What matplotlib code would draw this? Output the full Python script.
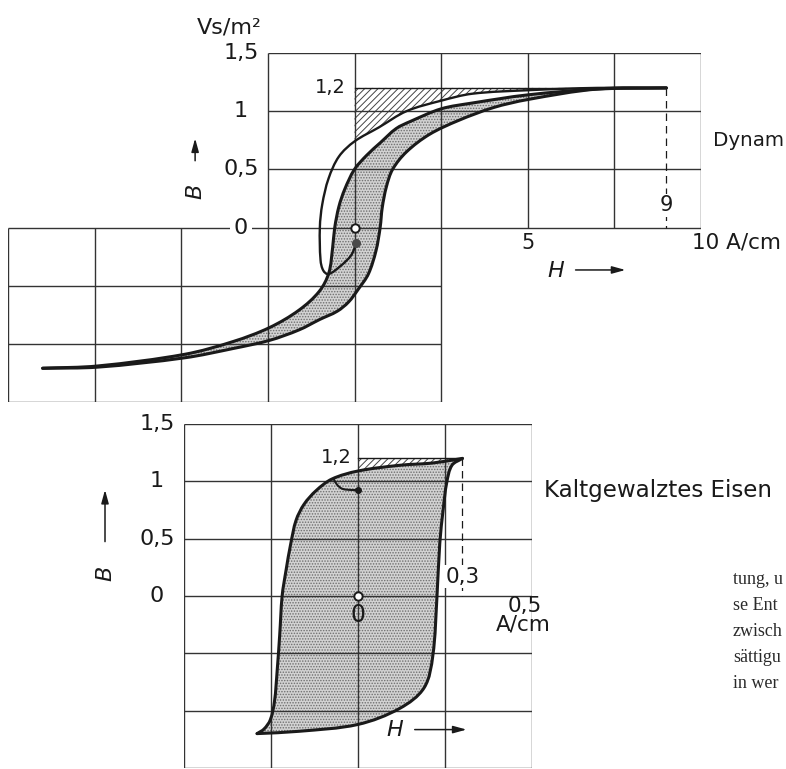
import numpy as np
import matplotlib
matplotlib.use("Agg")
import matplotlib.pyplot as plt
from matplotlib.path import Path
from matplotlib.patches import PathPatch

plt.rcParams['font.family'] = ['DejaVu Sans']
plt.rcParams['hatch.linewidth'] = 0.7

# Dynamoblech  (H in A/cm, B in Vs/m^2)
dyn_down_H = [9.0, 7.0, 5.0, 3.4, 2.5, 1.6, 1.2, 0.75, 0.35, 0.0, -0.28, -0.45, -0.57, -0.63,
              -0.74, -1.02, -1.6, -2.45, -3.5, -4.9, -7.4, -9.0]
dyn_down_B = [1.20, 1.19, 1.14, 1.07, 1.02, 0.91, 0.85, 0.73, 0.62, 0.50, 0.33, 0.18, 0.0, -0.17,
              -0.39, -0.55, -0.71, -0.86, -0.98, -1.09, -1.19, -1.21]
dyn_up_H = [-9.0, -7.4, -4.9, -3.5, -2.45, -1.6, -1.0, -0.5, -0.17, 0.11, 0.4, 0.62, 0.74,
            0.8, 0.92, 1.1, 1.5, 2.16, 3.0, 4.0, 5.0, 7.0, 9.0]
dyn_up_B = [-1.21, -1.2, -1.12, -1.04, -0.97, -0.88, -0.79, -0.72, -0.64, -0.53, -0.40, -0.2, 0.0,
            0.17, 0.35, 0.50, 0.65, 0.80, 0.92, 1.03, 1.10, 1.19, 1.20]
dyn_a_H = [9.0, 7.0, 5.0, 3.4, 2.5, 1.5, 0.7, 0.0, -0.45, -0.75, -0.93, -1.0, -0.98, -0.9,
           -0.75, -0.4, -0.1, 0.05]
dyn_a_B = [1.20, 1.20, 1.18, 1.15, 1.09, 1.00, 0.86, 0.74, 0.61, 0.42, 0.20, 0.0, -0.28, -0.37,
           -0.40, -0.33, -0.24, -0.14]
dyn_Hmax, dyn_Bmax = 9.0, 1.2

# Kaltgewalztes Eisen
kalt_down_H = [0.30, 0.215, 0.12, 0.0, -0.075, -0.12, -0.155, -0.178, -0.193, -0.207, -0.218,
               -0.225, -0.232, -0.24, -0.252, -0.27, -0.29]
kalt_down_B = [1.20, 1.16, 1.14, 1.09, 1.02, 0.92, 0.80, 0.66, 0.46, 0.22, 0.0,
               -0.34, -0.64, -0.92, -1.08, -1.16, -1.20]
kalt_up_H = [-0.29, -0.17, 0.0, 0.12, 0.19, 0.215, 0.227, 0.235, 0.245, 0.255, 0.27, 0.30]
kalt_up_B = [-1.20, -1.18, -1.12, -0.98, -0.80, -0.52, 0.0, 0.46, 0.76, 0.99, 1.14, 1.20]
kalt_hook_H = [-0.07, -0.06, -0.045, -0.02, 0.0]
kalt_hook_B = [1.02, 0.97, 0.935, 0.925, 0.925]
kalt_Hmax, kalt_Bmax = 0.3, 1.2

b_ticks = [1.5, 1, 0.5, 0]
b_labels = ["1,5", "1", "0,5", "0"]

body_lines = ["tung, u", "se Ent", "zwisch", "sättigu", "in wer"]

INK = '#1a1a1a'
GRID = '#333333'
ARROW = '-|>,head_length=0.8,head_width=0.22'


def smooth(xs, ys, sx, sy):
    # bezier path through the read points, handles 1/3 of the segment length
    p = np.column_stack([np.asarray(xs, float) * sx, np.asarray(ys, float) * sy])
    n = len(p)
    tang = np.zeros_like(p)
    for i in range(n):
        d = p[min(i + 1, n - 1)] - p[max(i - 1, 0)]
        tang[i] = d / (np.hypot(*d) or 1.0)
    verts = [p[0]]
    codes = [Path.MOVETO]
    for i in range(n - 1):
        L = np.hypot(*(p[i + 1] - p[i]))
        verts += [p[i] + tang[i] * L / 3, p[i + 1] - tang[i + 1] * L / 3, p[i + 1]]
        codes += [Path.CURVE4] * 3
    v = np.array(verts) / [sx, sy]
    return v, codes


def join(*parts, close=False):
    verts, codes = [], []
    for k, (v, c) in enumerate(parts):
        c = list(c)
        if k > 0:
            c[0] = Path.LINETO
        verts += list(v)
        codes += c
    if close:
        verts.append(verts[0])
        codes.append(Path.CLOSEPOLY)
    return Path(np.array(verts), codes)


def line_part(xs, ys):
    return np.column_stack([xs, ys]), [Path.MOVETO] + [Path.LINETO] * (len(xs) - 1)


def stipple(ax, path):
    ax.add_patch(PathPatch(path, facecolor='#d2d2d2', edgecolor='none', zorder=1))
    ax.add_patch(PathPatch(path, facecolor='none', edgecolor='#6e6e6e', lw=0, hatch='......', zorder=1))


def stroke(ax, part, lw):
    ax.add_patch(PathPatch(Path(*part), facecolor='none', edgecolor=INK, lw=lw, zorder=3,
                           capstyle='round', joinstyle='round'))


fig = plt.figure(figsize=(7.86, 7.69), dpi=100)
W, Hh = 786.0, 769.0

# ---------------- top: Dynamoblech ----------------
ax1 = fig.add_axes([8 / W, 1 - 402 / Hh, 693 / W, 349 / Hh])
ax1.set_xlim(-10, 10)
ax1.set_ylim(-1.5, 1.5)
ax1.axis('off')
sx1, sy1 = 34.65, 116.3

# grid (stepped)
up_x = [-2.5, 0, 2.5, 5, 7.5, 10]
lo_x = [-10, -7.5, -5, -2.5, 0, 2.5]
ax1.vlines(up_x, 0, 1.5, color=GRID, lw=1.0, zorder=2)
ax1.hlines([0.5, 1.0, 1.5], -2.5, 10, color=GRID, lw=1.0, zorder=2)
ax1.vlines(lo_x, -1.5, 0, color=GRID, lw=1.0, zorder=2)
ax1.hlines([-0.5, -1.0, -1.5], -10, 2.5, color=GRID, lw=1.0, zorder=2)
ax1.hlines(0, -10, 10, color=GRID, lw=1.0, zorder=2)

down1 = smooth(dyn_down_H, dyn_down_B, sx1, sy1)
up1 = smooth(dyn_up_H, dyn_up_B, sx1, sy1)
a1 = smooth(dyn_a_H, dyn_a_B, sx1, sy1)
a1_top = smooth(dyn_a_H[:8], dyn_a_B[:8], sx1, sy1)

stipple(ax1, join(down1, up1, close=True))
hatch1 = join(line_part([0, dyn_Hmax], [dyn_Bmax, dyn_Bmax]), a1_top, close=True)
ax1.add_patch(PathPatch(hatch1, facecolor='white', edgecolor='#444444', lw=0, hatch='/////', zorder=1))

stroke(ax1, down1, 2.2)
stroke(ax1, up1, 2.2)
stroke(ax1, a1, 1.7)
ax1.plot([0, dyn_Hmax], [dyn_Bmax, dyn_Bmax], color=INK, lw=1.0, zorder=3)
ax1.plot([dyn_Hmax, dyn_Hmax], [dyn_Bmax, 0], color=INK, lw=0.9, ls=(0, (6, 4)), zorder=3)
ax1.plot([0], [0], 'o', ms=6, mfc='white', mec=INK, mew=1.4, zorder=4)
ax1.plot([dyn_a_H[-1]], [dyn_a_B[-1] + 0.01], 'o', ms=5.5, color='#4a4a4a', zorder=4)

for v, s in zip(b_ticks, b_labels):
    bb = dict(facecolor='white', edgecolor='none', pad=3) if v == 0 else None
    ax1.text(-3.28, v, s, ha='center', va='center', fontsize=16, color=INK, bbox=bb, zorder=5)
ax1.text(-0.25, 1.2, "1,2", ha='right', va='center', fontsize=14, color=INK)
ax1.text(-3.6, 1.72, "Vs/m²", ha='center', va='center', fontsize=16, color=INK)
ax1.text(-4.6, 0.31, "B", ha='center', va='center', fontsize=16, style='italic', rotation=90, color=INK)
ax1.annotate('', xy=(-4.6, 0.79), xytext=(-4.6, 0.55), annotation_clip=False,
             arrowprops=dict(arrowstyle=ARROW, color=INK, lw=1.1))
ax1.text(5, -0.13, "5", ha='center', va='center', fontsize=15, color=INK)
ax1.text(9.75, -0.13, "10 A/cm", ha='left', va='center', fontsize=15.5, color=INK)
ax1.text(5.8, -0.375, "H", ha='center', va='center', fontsize=16, style='italic', color=INK)
ax1.annotate('', xy=(7.9, -0.365), xytext=(6.3, -0.365), annotation_clip=False,
             arrowprops=dict(arrowstyle=ARROW, color=INK, lw=1.1))
ax1.text(9.0, 0.19, "9", ha='center', va='center', fontsize=15, color=INK,
         bbox=dict(facecolor='white', edgecolor='none', pad=1), zorder=5)
ax1.text(10.34, 0.75, "Dynam", ha='left', va='center', fontsize=14.3, color=INK)

# ---------------- bottom: Kaltgewalztes Eisen ----------------
ax2 = fig.add_axes([184 / W, 1 - 768 / Hh, 348 / W, 344 / Hh])
ax2.set_xlim(-0.5, 0.5)
ax2.set_ylim(-1.5, 1.5)
ax2.axis('off')
sx2, sy2 = 348.0, 114.7

ax2.vlines([-0.5, -0.25, 0, 0.25, 0.5], -1.5, 1.5, color=GRID, lw=1.0, zorder=2)
ax2.hlines([-1.5, -1, -0.5, 0, 0.5, 1, 1.5], -0.5, 0.5, color=GRID, lw=1.0, zorder=2)

down2 = smooth(kalt_down_H, kalt_down_B, sx2, sy2)
up2 = smooth(kalt_up_H, kalt_up_B, sx2, sy2)
top2 = smooth(kalt_down_H[:4], kalt_down_B[:4], sx2, sy2)
hook2 = smooth(kalt_hook_H, kalt_hook_B, sx2, sy2)

stipple(ax2, join(down2, up2, close=True))
hatch2 = join(line_part([0, kalt_Hmax], [kalt_Bmax, kalt_Bmax]), top2, close=True)
ax2.add_patch(PathPatch(hatch2, facecolor='white', edgecolor='#444444', lw=0, hatch='/////', zorder=1))
stroke(ax2, down2, 2.2)
stroke(ax2, up2, 2.2)
stroke(ax2, hook2, 1.5)
ax2.plot([0, kalt_Hmax], [kalt_Bmax, kalt_Bmax], color=INK, lw=1.0, zorder=3)
ax2.plot([kalt_Hmax, kalt_Hmax], [kalt_Bmax, 0], color=INK, lw=0.9, ls=(0, (6, 4)), zorder=3)
ax2.plot([0], [0], 'o', ms=6, mfc='white', mec=INK, mew=1.4, zorder=4)
ax2.plot([kalt_hook_H[-1]], [kalt_hook_B[-1]], 'o', ms=4, color=INK, zorder=4)

for v, s in zip(b_ticks, b_labels):
    ax2.text(-0.578, v, s, ha='center', va='center', fontsize=16, color=INK)
ax2.text(-0.017, 1.21, "1,2", ha='right', va='center', fontsize=14, color=INK)
ax2.text(0.3, 0.17, "0,3", ha='center', va='center', fontsize=15.5, color=INK,
         bbox=dict(facecolor='white', edgecolor='none', pad=1), zorder=5)
ax2.text(0.0, -0.17, "0", ha='center', va='center', fontsize=17, color=INK)
ax2.text(0.527, -0.09, "0,5", ha='right', va='center', fontsize=15.5, color=INK)
ax2.text(0.555, -0.25, "A/cm", ha='right', va='center', fontsize=15.5, color=INK)
ax2.text(0.106, -1.17, "H", ha='center', va='center', fontsize=16, style='italic', color=INK)
ax2.annotate('', xy=(0.32, -1.165), xytext=(0.155, -1.165), annotation_clip=False,
             arrowprops=dict(arrowstyle=ARROW, color=INK, lw=1.1))
ax2.text(-0.727, 0.2, "B", ha='center', va='center', fontsize=16, style='italic', rotation=90, color=INK)
ax2.annotate('', xy=(-0.727, 0.95), xytext=(-0.727, 0.45), annotation_clip=False,
             arrowprops=dict(arrowstyle=ARROW, color=INK, lw=1.1))
ax2.text(0.535, 0.92, "Kaltgewalztes Eisen", ha='left', va='center', fontsize=16.6, color=INK)

# running text of the book page at the right edge
for k, s in enumerate(body_lines):
    fig.text(733 / W, 1 - (580 + 25.8 * k) / Hh, s, ha='left', va='center', fontsize=13,
             family=['Liberation Serif', 'DejaVu Serif'], color='#2a2a2a')

fig.savefig("out.png", dpi=100, facecolor='white')
